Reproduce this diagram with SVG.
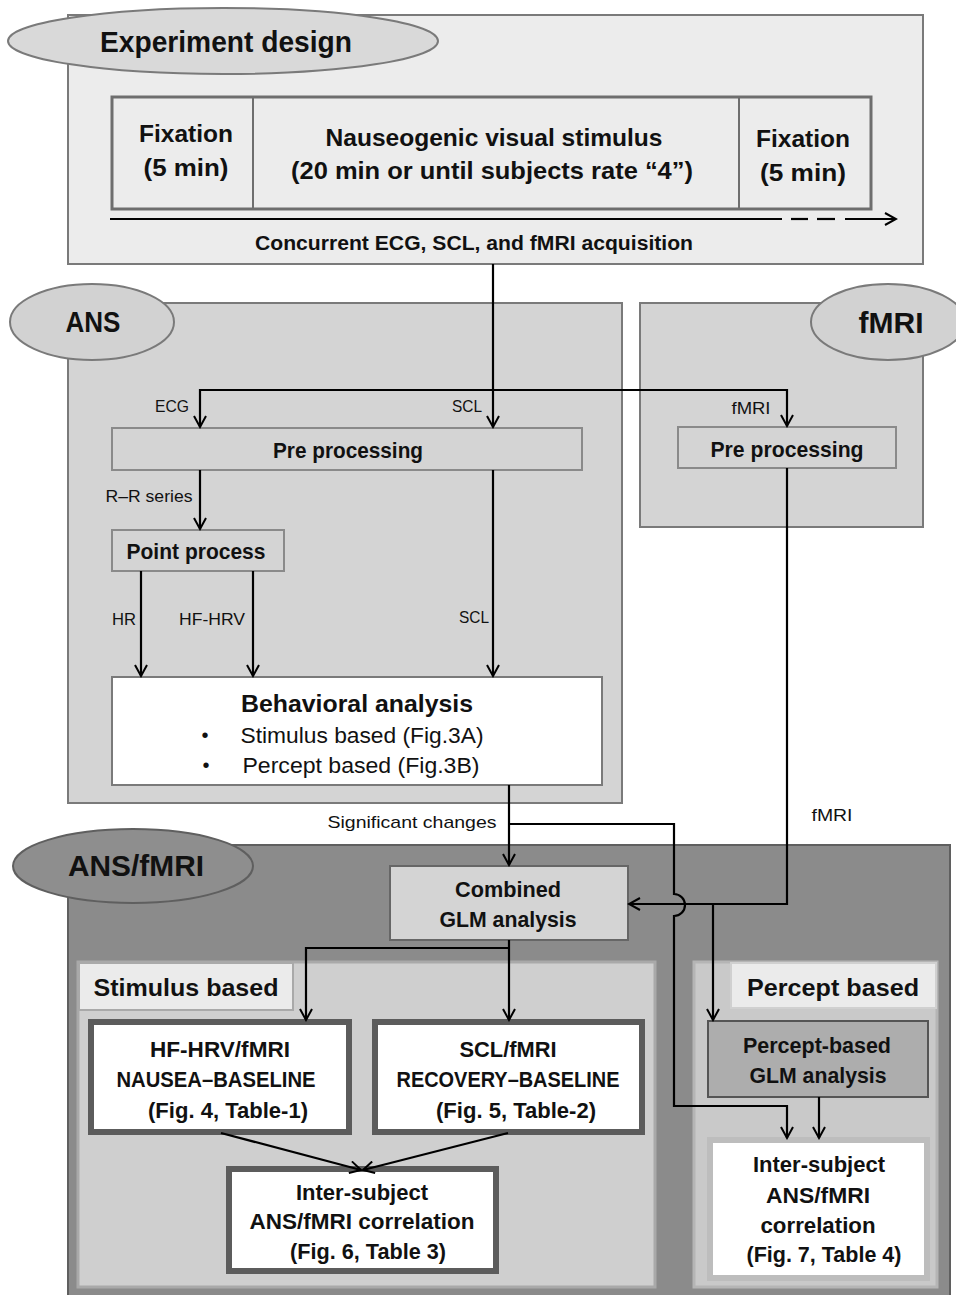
<svg xmlns="http://www.w3.org/2000/svg" width="956" height="1295" viewBox="0 0 956 1295">
<defs>
<marker id="ah" viewBox="0 0 14 14" refX="12" refY="7" markerWidth="14" markerHeight="14" markerUnits="userSpaceOnUse" orient="auto">
<path d="M1,1 L12,7 L1,13" fill="none" stroke="#000" stroke-width="2"/>
</marker>
<style>
text{font-family:"Liberation Sans",Arial,sans-serif;fill:#111;text-anchor:middle;dominant-baseline:central}
.b{font-weight:bold}
.lbl{font-size:17px}
.ln{fill:none;stroke:#000;stroke-width:2.2}
.arr{marker-end:url(#ah)}
.grey{stroke:#7a7a7a;stroke-width:2}
.thick{fill:#fff;stroke:#5c5c5c;stroke-width:6}
</style>
</defs>
<rect width="956" height="1295" fill="#fff"/>

<g id="experiment">
<rect x="68" y="15" width="855" height="249" fill="#ececec" class="grey"/>
<ellipse cx="223" cy="41" rx="215" ry="33" fill="#d9d9d9" class="grey"/>
<text class="b" x="226" y="41" font-size="30" textLength="252" lengthAdjust="spacingAndGlyphs">Experiment design</text>
<rect x="112" y="97" width="759" height="112" fill="#ececec" stroke="#6e6e6e" stroke-width="3"/>
<line x1="253" y1="97" x2="253" y2="209" stroke="#6e6e6e" stroke-width="2"/>
<line x1="739" y1="97" x2="739" y2="209" stroke="#6e6e6e" stroke-width="2"/>
<text class="b" x="186" y="133" font-size="24" textLength="94" lengthAdjust="spacingAndGlyphs">Fixation</text>
<text class="b" x="186" y="167" font-size="24" textLength="85" lengthAdjust="spacingAndGlyphs">(5 min)</text>
<text class="b" x="494" y="137" font-size="24" textLength="337" lengthAdjust="spacingAndGlyphs">Nauseogenic visual stimulus</text>
<text class="b" x="492" y="170" font-size="24" textLength="402" lengthAdjust="spacingAndGlyphs">(20 min or until subjects rate “4”)</text>
<text class="b" x="803" y="138" font-size="24" textLength="94" lengthAdjust="spacingAndGlyphs">Fixation</text>
<text class="b" x="803" y="172" font-size="24" textLength="86" lengthAdjust="spacingAndGlyphs">(5 min)</text>
<line x1="110" y1="219" x2="782" y2="219" class="ln"/>
<line x1="791" y1="219" x2="808" y2="219" class="ln"/>
<line x1="817" y1="219" x2="835" y2="219" class="ln"/>
<line x1="845" y1="219" x2="896" y2="219" class="ln arr"/>
<text class="b" x="474" y="243" font-size="20" textLength="438" lengthAdjust="spacingAndGlyphs">Concurrent ECG, SCL, and fMRI acquisition</text>
</g>

<g id="ans">
<rect x="68" y="303" width="554" height="500" fill="#d4d4d4" class="grey"/>
<ellipse cx="92" cy="322" rx="82" ry="38" fill="#d2d2d2" class="grey"/>
<text class="b" x="93" y="321" font-size="30" textLength="55" lengthAdjust="spacingAndGlyphs">ANS</text>
</g>

<g id="fmri">
<rect x="640" y="303" width="283" height="224" fill="#d4d4d4" class="grey"/>
<ellipse cx="888" cy="322" rx="77" ry="38" fill="#d2d2d2" class="grey"/>
<text class="b" x="891" y="322" font-size="30" textLength="65" lengthAdjust="spacingAndGlyphs">fMRI</text>
</g>

<g id="ans-preprocessing">
<rect x="112" y="428" width="470" height="42" fill="#d4d4d4" stroke="#8a8a8a" stroke-width="2"/>
<text class="b" x="348" y="450" font-size="22" textLength="150" lengthAdjust="spacingAndGlyphs">Pre processing</text>
</g>

<g id="fmri-preprocessing">
<rect x="678" y="427" width="218" height="41" fill="#d4d4d4" stroke="#8a8a8a" stroke-width="2"/>
<text class="b" x="787" y="449" font-size="22" textLength="153" lengthAdjust="spacingAndGlyphs">Pre processing</text>
</g>

<g id="point-process">
<rect x="112" y="530" width="172" height="41" fill="#d4d4d4" stroke="#8a8a8a" stroke-width="2"/>
<text class="b" x="196" y="551" font-size="22" textLength="139" lengthAdjust="spacingAndGlyphs">Point process</text>
</g>

<g id="behavioral">
<rect x="112" y="677" width="490" height="108" fill="#fff" stroke="#7a7a7a" stroke-width="2"/>
<text class="b" x="357" y="703" font-size="24" textLength="232" lengthAdjust="spacingAndGlyphs">Behavioral analysis</text>
<text x="205" y="735" font-size="20">•</text>
<text x="362" y="735" font-size="22" textLength="243" lengthAdjust="spacingAndGlyphs">Stimulus based (Fig.3A)</text>
<text x="206" y="765" font-size="20">•</text>
<text x="361" y="765" font-size="22" textLength="237" lengthAdjust="spacingAndGlyphs">Percept based  (Fig.3B)</text>
</g>

<g id="ans-fmri">
<rect x="68" y="845" width="882" height="460" fill="#8b8b8b" stroke="#5f5f5f" stroke-width="2"/>
<ellipse cx="133" cy="866" rx="120" ry="37" fill="#8e8e8e" stroke="#5f5f5f" stroke-width="2"/>
<text class="b" x="136" y="865" font-size="30" textLength="136" lengthAdjust="spacingAndGlyphs">ANS/fMRI</text>
</g>

<g id="combined-glm">
<rect x="390" y="866" width="238" height="74" fill="#d4d4d4" stroke="#666" stroke-width="2"/>
<text class="b" x="508" y="889" font-size="22" textLength="106" lengthAdjust="spacingAndGlyphs">Combined</text>
<text class="b" x="508" y="919" font-size="22" textLength="137" lengthAdjust="spacingAndGlyphs">GLM analysis</text>
</g>

<g id="stimulus-panel">
<rect x="78" y="962" width="577" height="325" fill="#cfcfcf" stroke="#a9a9a9" stroke-width="3"/>
<rect x="79" y="963" width="214" height="47" fill="#ebebeb" stroke="#a9a9a9" stroke-width="2"/>
<text class="b" x="186" y="987" font-size="24" textLength="185" lengthAdjust="spacingAndGlyphs">Stimulus based</text>
</g>

<g id="percept-panel">
<rect x="694" y="962" width="243" height="325" fill="#c9c9c9" stroke="#b5b5b5" stroke-width="3"/>
<rect x="731" y="963" width="205" height="45" fill="#ebebeb" stroke="#d0d0d0" stroke-width="2"/>
<text class="b" x="833" y="987" font-size="24" textLength="172" lengthAdjust="spacingAndGlyphs">Percept based</text>
</g>

<g id="hfhrv-fmri">
<rect x="91" y="1022" width="258" height="110" class="thick"/>
<text class="b" x="220" y="1049" font-size="22" textLength="140" lengthAdjust="spacingAndGlyphs">HF-HRV/fMRI</text>
<text class="b" x="216" y="1079" font-size="22" textLength="199" lengthAdjust="spacingAndGlyphs">NAUSEA–BASELINE</text>
<text class="b" x="228" y="1110" font-size="22" textLength="160" lengthAdjust="spacingAndGlyphs">(Fig. 4, Table-1)</text>
</g>

<g id="scl-fmri">
<rect x="375" y="1022" width="267" height="110" class="thick"/>
<text class="b" x="508" y="1049" font-size="22" textLength="97" lengthAdjust="spacingAndGlyphs">SCL/fMRI</text>
<text class="b" x="508" y="1079" font-size="22" textLength="223" lengthAdjust="spacingAndGlyphs">RECOVERY–BASELINE</text>
<text class="b" x="516" y="1110" font-size="22" textLength="160" lengthAdjust="spacingAndGlyphs">(Fig. 5, Table-2)</text>
</g>

<g id="inter-subject-stimulus">
<rect x="229" y="1169" width="267" height="102" class="thick"/>
<text class="b" x="362" y="1192" font-size="22" textLength="132" lengthAdjust="spacingAndGlyphs">Inter-subject</text>
<text class="b" x="362" y="1221" font-size="22" textLength="225" lengthAdjust="spacingAndGlyphs">ANS/fMRI correlation</text>
<text class="b" x="368" y="1251" font-size="22" textLength="156" lengthAdjust="spacingAndGlyphs">(Fig. 6, Table 3)</text>
</g>

<g id="percept-glm">
<rect x="708" y="1021" width="220" height="76" fill="#adadad" stroke="#555" stroke-width="2"/>
<text class="b" x="817" y="1045" font-size="22" textLength="148" lengthAdjust="spacingAndGlyphs">Percept-based</text>
<text class="b" x="818" y="1075" font-size="22" textLength="137" lengthAdjust="spacingAndGlyphs">GLM analysis</text>
</g>

<g id="inter-subject-percept">
<rect x="710" y="1140" width="217" height="138" fill="#fff" stroke="#bdbdbd" stroke-width="6"/>
<text class="b" x="819" y="1164" font-size="22" textLength="132" lengthAdjust="spacingAndGlyphs">Inter-subject</text>
<text class="b" x="818" y="1195" font-size="22" textLength="104" lengthAdjust="spacingAndGlyphs">ANS/fMRI</text>
<text class="b" x="818" y="1225" font-size="22" textLength="115" lengthAdjust="spacingAndGlyphs">correlation</text>
<text class="b" x="824" y="1254" font-size="22" textLength="155" lengthAdjust="spacingAndGlyphs">(Fig. 7, Table 4)</text>
</g>

<g id="connectors">
<path class="ln arr" d="M493,264 L493,427"/>
<path class="ln arr" d="M493,390 L200,390 L200,427"/>
<path class="ln arr" d="M493,390 L787,390 L787,426"/>
<path class="ln arr" d="M200,470 L200,529"/>
<path class="ln arr" d="M141,571 L141,676"/>
<path class="ln arr" d="M253,571 L253,676"/>
<path class="ln arr" d="M493,470 L493,676"/>
<path class="ln arr" d="M509,785 L509,865"/>
<path class="ln arr" d="M509,824 L674,824 L674,894 A11,11 0 0 1 674,916 L674,1106 L787,1106 L787,1138"/>
<path class="ln arr" d="M787,468 L787,904 L629,904"/>
<path class="ln arr" d="M713,904 L713,1020"/>
<path class="ln arr" d="M509,940 L509,1020"/>
<path class="ln arr" d="M509,948 L306,948 L306,1020"/>
<path class="ln arr" d="M819,1097 L819,1138"/>
<path class="ln arr" d="M221,1133 L361,1170"/>
<path class="ln arr" d="M508,1133 L363,1170"/>
<text class="lbl" x="172" y="406" textLength="34" lengthAdjust="spacingAndGlyphs">ECG</text>
<text class="lbl" x="467" y="406" textLength="30" lengthAdjust="spacingAndGlyphs">SCL</text>
<text class="lbl" x="751" y="408" textLength="39" lengthAdjust="spacingAndGlyphs">fMRI</text>
<text class="lbl" x="149" y="496" textLength="87" lengthAdjust="spacingAndGlyphs">R–R series</text>
<text class="lbl" x="124" y="619" textLength="24" lengthAdjust="spacingAndGlyphs">HR</text>
<text class="lbl" x="212" y="619" textLength="66" lengthAdjust="spacingAndGlyphs">HF-HRV</text>
<text class="lbl" x="474" y="617" textLength="30" lengthAdjust="spacingAndGlyphs">SCL</text>
<text class="lbl" x="412" y="822" font-size="18" textLength="169" lengthAdjust="spacingAndGlyphs">Significant changes</text>
<text class="lbl" x="832" y="815" textLength="41" lengthAdjust="spacingAndGlyphs">fMRI</text>
</g>
</svg>
